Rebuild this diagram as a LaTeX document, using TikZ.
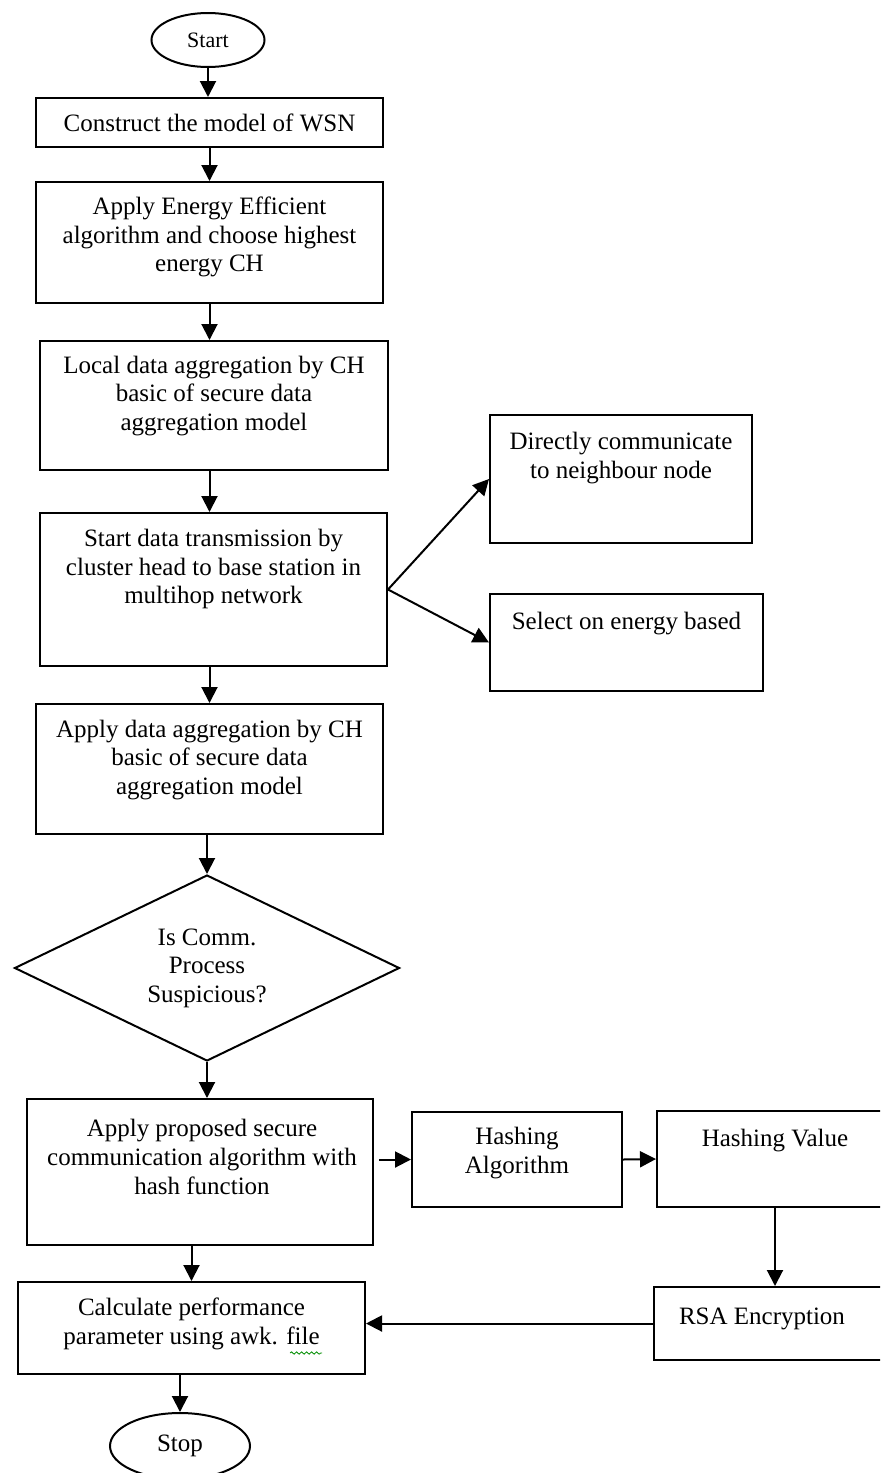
\documentclass[tikz,border=0pt]{standalone}
\usepackage{fontspec}
\setmainfont{Liberation Serif}
\usepackage{tikz}
\usetikzlibrary{calc,arrows.meta,positioning,shapes.geometric,decorations.pathmorphing}
\tikzset{
  ar/.style={-{Triangle[length=8pt,width=8pt]},line width=1pt},
  box/.style={draw,line width=1pt,inner sep=0pt},
  txt/.style={align=center,inner sep=0pt},
  term/.style={draw,ellipse,line width=1pt,inner sep=0pt},
  dec/.style={draw,diamond,aspect=2,line width=1pt,inner sep=0pt,align=center}
}
\begin{document}
\begin{tikzpicture}[x=0.5pt,y=-0.5pt,font=\fontsize{12.5}{14.3}\selectfont]
\useasboundingbox (0,0) rectangle (880,1473);
\clip (0,0) rectangle (880,1473);
\node[term,minimum width=56.5pt,minimum height=27pt,font=\fontsize{11}{13}\selectfont] (start) at (208,40) {Start};
\node[box,minimum width=173.5pt,minimum height=24.5pt] (wsn) at (209.5,122.5) {Construct the model of WSN};
\node[box,minimum width=173.5pt,minimum height=60.5pt] (eea) at (209.5,242.5) {};
\node[txt] (eeaT) at (209.5,237) {Apply Energy Efficient\\algorithm and choose highest\\energy CH};
\node[box,minimum width=174pt,minimum height=64.5pt] (local) at (214,405.5) {};
\node[txt] (localT) at (214,396) {Local data aggregation by CH\\basic of secure data\\aggregation model};
\node[box,minimum width=173.5pt,minimum height=76.5pt] (trans) at (213.5,589.5) {};
\node[txt] (transT) at (213.5,569) {Start data transmission by\\cluster head to base station in\\multihop network};
\node[box,minimum width=173.5pt,minimum height=65pt] (agg) at (209.5,769) {};
\node[txt] (aggT) at (209.5,760) {Apply data aggregation by CH\\basic of secure data\\aggregation model};
\node[box,minimum width=131pt,minimum height=64pt] (direct) at (621,479) {};
\node[txt] (directT) at (621,458) {Directly communicate\\to neighbour node};
\node[box,minimum width=136.5pt,minimum height=48.5pt] (energy) at (626.5,642.5) {};
\node[txt] (energyT) at (626.5,624) {Select on energy based};
\node[dec,minimum width=192.5pt,minimum height=93pt] (susp) at (207,968) {Is Comm.\\Process\\Suspicious?};
\node[box,minimum width=173pt,minimum height=73pt] (secure) at (200,1172) {};
\node[txt] (secureT) at (202,1157) {Apply proposed secure\\communication algorithm with\\hash function};
\node[box,minimum width=105pt,minimum height=47.5pt] (halg) at (517,1159.5) {};
\node[txt] (halgT) at (517,1153) {Hashing\\Algorithm};
\node[box,minimum width=118pt,minimum height=48pt] (hval) at (775,1159) {};
\node[txt] (hvalT) at (775,1141) {Hashing Value};
\node[box,minimum width=119.5pt,minimum height=36.5pt] (rsa) at (773.5,1323.5) {};
\node[txt] (rsaT) at (762,1319) {RSA Encryption};
\node[box,minimum width=173.5pt,minimum height=46pt] (calc) at (191.5,1328) {};
\node[txt] (calcT) at (191.5,1324) {Calculate performance\\parameter using awk. file};
\node[term,minimum width=70pt,minimum height=33pt] (stop) at (180,1446) {Stop};
\draw[green!55!black,decorate,decoration={snake,amplitude=0.6pt,segment length=2.5pt}] (290,1353) -- (322,1353);
\draw[ar] (start.south) -- (start.south |- wsn.north);
\draw[ar] (wsn.south) -- (eea.north);
\draw[ar] (eea.south) -- (eea.south |- local.north);
\draw[ar] (eea.south |- local.south) -- (eea.south |- trans.north);
\draw[ar] (agg.north |- trans.south) -- (agg.north);
\draw[ar] (agg.south -| susp.north) -- (susp.north);
\draw[ar] (susp.south) -- (susp.south |- secure.north);
\draw[ar] (trans.east) -- (direct.west);
\draw[ar] (trans.east) -- (energy.west);
\draw[ar] ([xshift=2.5pt]secure.east |- halg.west) -- (halg.west);
\draw[ar] (halg.east) -- (hval.west);
\draw[ar] (hval.south) -- (hval.south |- rsa.north);
\draw[ar] (rsa.west) -- (rsa.west -| calc.east);
\draw[ar] (secure.south -| calc.north) -- (calc.north);
\draw[ar] (calc.south -| stop.north) -- (stop.north);
\end{tikzpicture}
\end{document}
